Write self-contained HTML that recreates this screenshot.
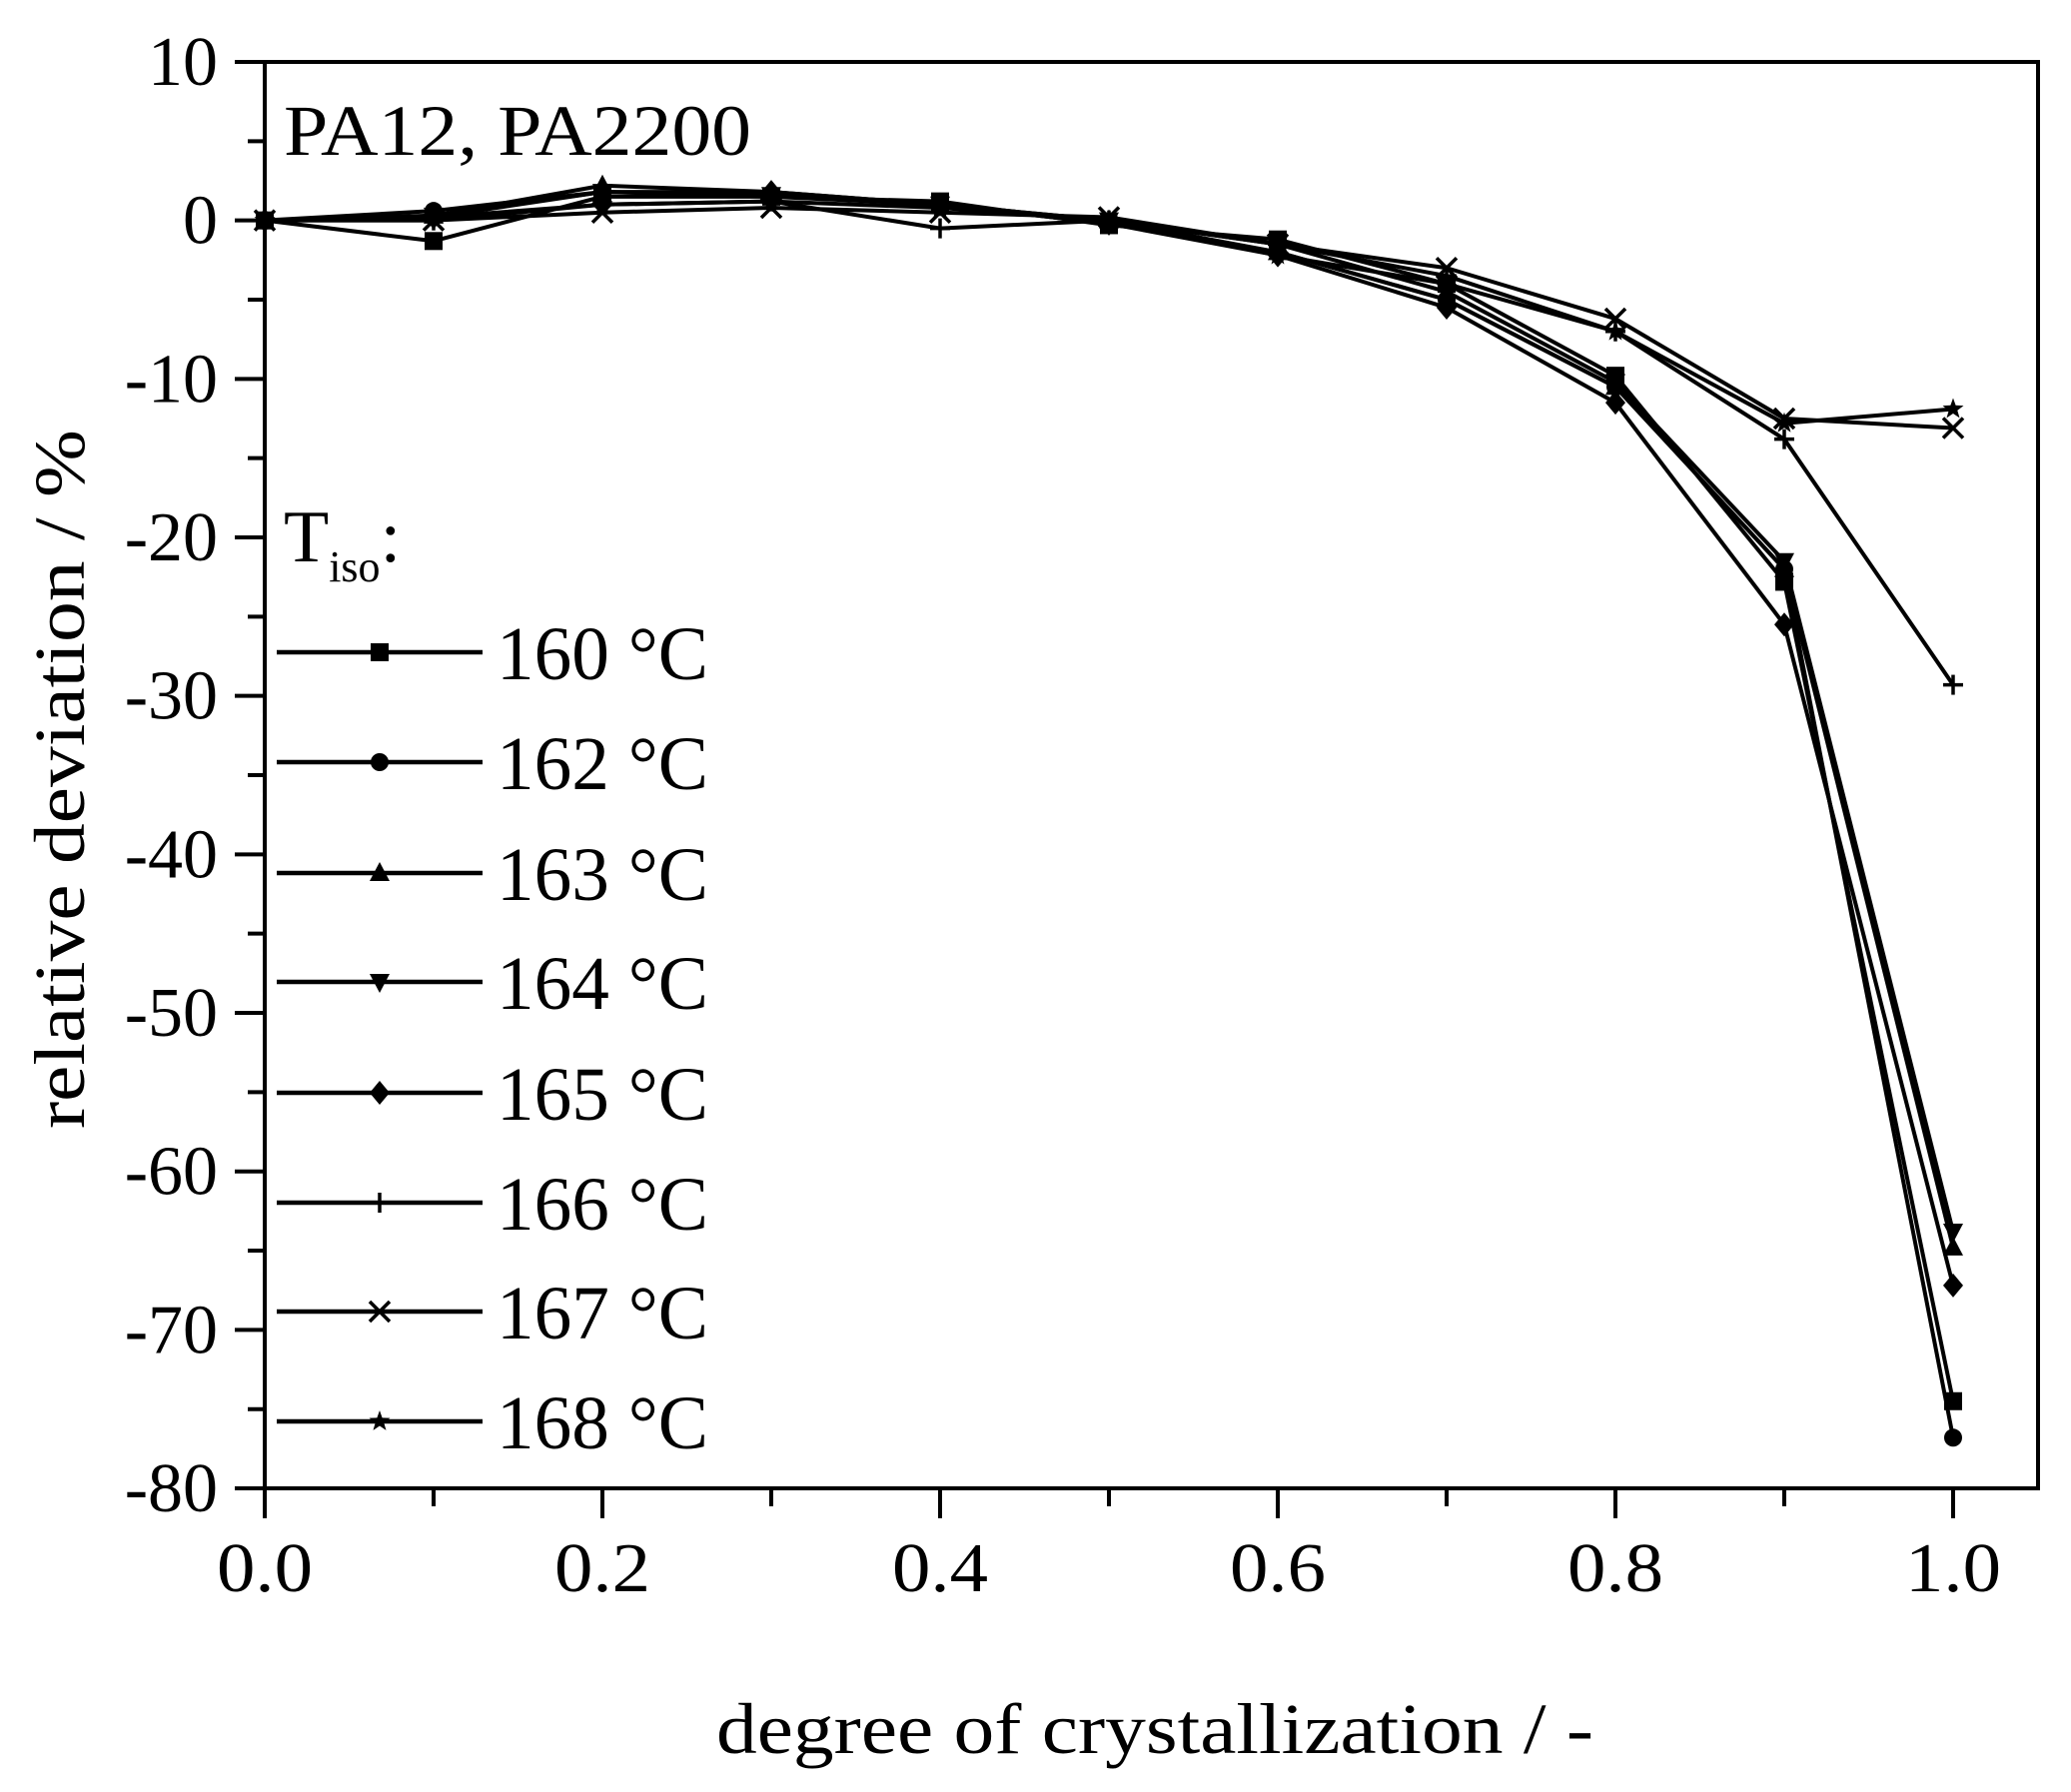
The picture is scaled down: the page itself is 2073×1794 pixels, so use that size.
<!DOCTYPE html>
<html><head><meta charset="utf-8"><style>
html,body{margin:0;padding:0;background:#fff;}
svg{display:block;}
text{font-family:"Liberation Serif",serif;fill:#000;}
</style></head><body>
<svg id="s" width="2073" height="1794" viewBox="0 0 2073 1794" xmlns="http://www.w3.org/2000/svg">
<rect width="2073" height="1794" fill="#fff"/>
<g id="plot"></g>
<rect x="265" y="62" width="1775" height="1428" fill="none" stroke="#000" stroke-width="4"/>
<g id="ticks" stroke="#000" stroke-width="4"></g>
<g id="labels" font-size="70"></g>
<text x="284" y="155" font-size="72" textLength="468" lengthAdjust="spacingAndGlyphs">PA12, PA2200</text>
<text x="284" y="562" font-size="74">T<tspan font-size="44" dy="20">iso</tspan><tspan dy="-20">:</tspan></text>
<g id="legend"></g>
<text x="1156" y="1755" font-size="72" text-anchor="middle" textLength="878" lengthAdjust="spacingAndGlyphs">degree of crystallization / -</text>
<text transform="translate(84,780) rotate(-90)" font-size="72" text-anchor="middle" textLength="700" lengthAdjust="spacingAndGlyphs">relative deviation / %</text>
</svg>
<script>
const NS="http://www.w3.org/2000/svg";
const px=x=>265+1690*x, py=y=>62+(10-y)*15.867;
function el(p,t,a){const e=document.createElementNS(NS,t);for(const k in a)e.setAttribute(k,a[k]);p.appendChild(e);return e;}
const T=document.getElementById('ticks'),L=document.getElementById('labels');
for(let i=0;i<=10;i++){const x=px(i*0.1);el(T,'line',{x1:x,y1:1490,x2:x,y2:i%2==0?1520:1508});
 if(i%2==0){const t=el(L,'text',{x:x,y:1593,'text-anchor':'middle',textLength:96,lengthAdjust:'spacingAndGlyphs'});t.textContent=(i/10).toFixed(1);}}
for(let v=10;v>=-80;v-=5){const y=py(v);const maj=v%10==0;el(T,'line',{x1:maj?235:248,y1:y,x2:265,y2:y});
 if(maj){const t=el(L,'text',{x:218,y:y+23,'text-anchor':'end'});t.textContent=v;}}
const xs=[0,.1,.2,.3,.4,.5,.6,.7,.8,.9,1];
const S=[
['sq',[0,-1.3,1.5,1.5,1.2,-0.3,-1.2,-4,-9.8,-22.8,-74.5]],
['ci',[0,0.6,1.8,1.5,1.0,-0.2,-2,-5,-10.5,-22,-76.8]],
['tu',[0,0.3,2.2,1.8,1.0,0,-2,-5,-10.5,-22,-64.8]],
['td',[0,0.3,1.8,1.6,1.0,0,-1.5,-4.5,-10.2,-21.5,-63.8]],
['di',[0,0.2,1.8,1.8,1.0,-0.2,-2.2,-5.5,-11.5,-25.5,-67.2]],
['pl',[0,0,1.0,1.2,-0.5,0,-1.5,-3.5,-7,-13.8,-29.3]],
['xx',[0,0,0.5,0.8,0.5,0.2,-1.5,-3,-6.2,-12.5,-13.1]],
['st',[0,0.2,1.0,1.2,0.8,0,-2.2,-4,-7,-12.8,-11.9]]];
const P=document.getElementById('plot'),G=document.getElementById('legend');
function mk(g,t,x,y){const r=10;
 if(t=='sq')el(g,'rect',{x:x-r+1,y:y-r+1,width:2*r-2,height:2*r-2});
 else if(t=='ci')el(g,'circle',{cx:x,cy:y,r:r-1});
 else if(t=='tu')el(g,'polygon',{points:`${x},${y-r-1} ${x-r},${y+r-2} ${x+r},${y+r-2}`});
 else if(t=='td')el(g,'polygon',{points:`${x},${y+r+1} ${x-r},${y-r+2} ${x+r},${y-r+2}`});
 else if(t=='di')el(g,'polygon',{points:`${x},${y-r-2} ${x+r},${y} ${x},${y+r+2} ${x-r},${y}`});
 else if(t=='pl'){el(g,'line',{x1:x-r,y1:y,x2:x+r,y2:y,stroke:'#000','stroke-width':3.5});el(g,'line',{x1:x,y1:y-r,x2:x,y2:y+r,stroke:'#000','stroke-width':3.5});}
 else if(t=='xx'){el(g,'line',{x1:x-r,y1:y-r,x2:x+r,y2:y+r,stroke:'#000','stroke-width':3.5});el(g,'line',{x1:x-r,y1:y+r,x2:x+r,y2:y-r,stroke:'#000','stroke-width':3.5});}
 else if(t=='st'){let p=[];for(let k=0;k<10;k++){const a=-Math.PI/2+k*Math.PI/5,rr=k%2?r*0.45:r+1;p.push((x+rr*Math.cos(a)).toFixed(1)+','+(y+rr*Math.sin(a)).toFixed(1));}el(g,'polygon',{points:p.join(' ')});}
}
S.forEach(([t,d])=>{el(P,'polyline',{points:d.map((v,i)=>px(xs[i])+','+py(v)).join(' '),fill:'none',stroke:'#000','stroke-width':4,'stroke-linejoin':'round'});
 d.forEach((v,i)=>mk(P,t,px(xs[i]),py(v)));});
const ly=[653,763,874,983,1094,1204,1313,1423],names=['160','162','163','164','165','166','167','168'];
S.forEach(([t],i)=>{const y=ly[i];el(G,'line',{x1:277,y1:y,x2:483,y2:y,stroke:'#000','stroke-width':4.5});mk(G,t,380,y);
 const tx=el(G,'text',{x:497,y:y+27,'font-size':76,textLength:212,lengthAdjust:'spacingAndGlyphs'});tx.textContent=names[i]+' °C';});
</script>
</body></html>
